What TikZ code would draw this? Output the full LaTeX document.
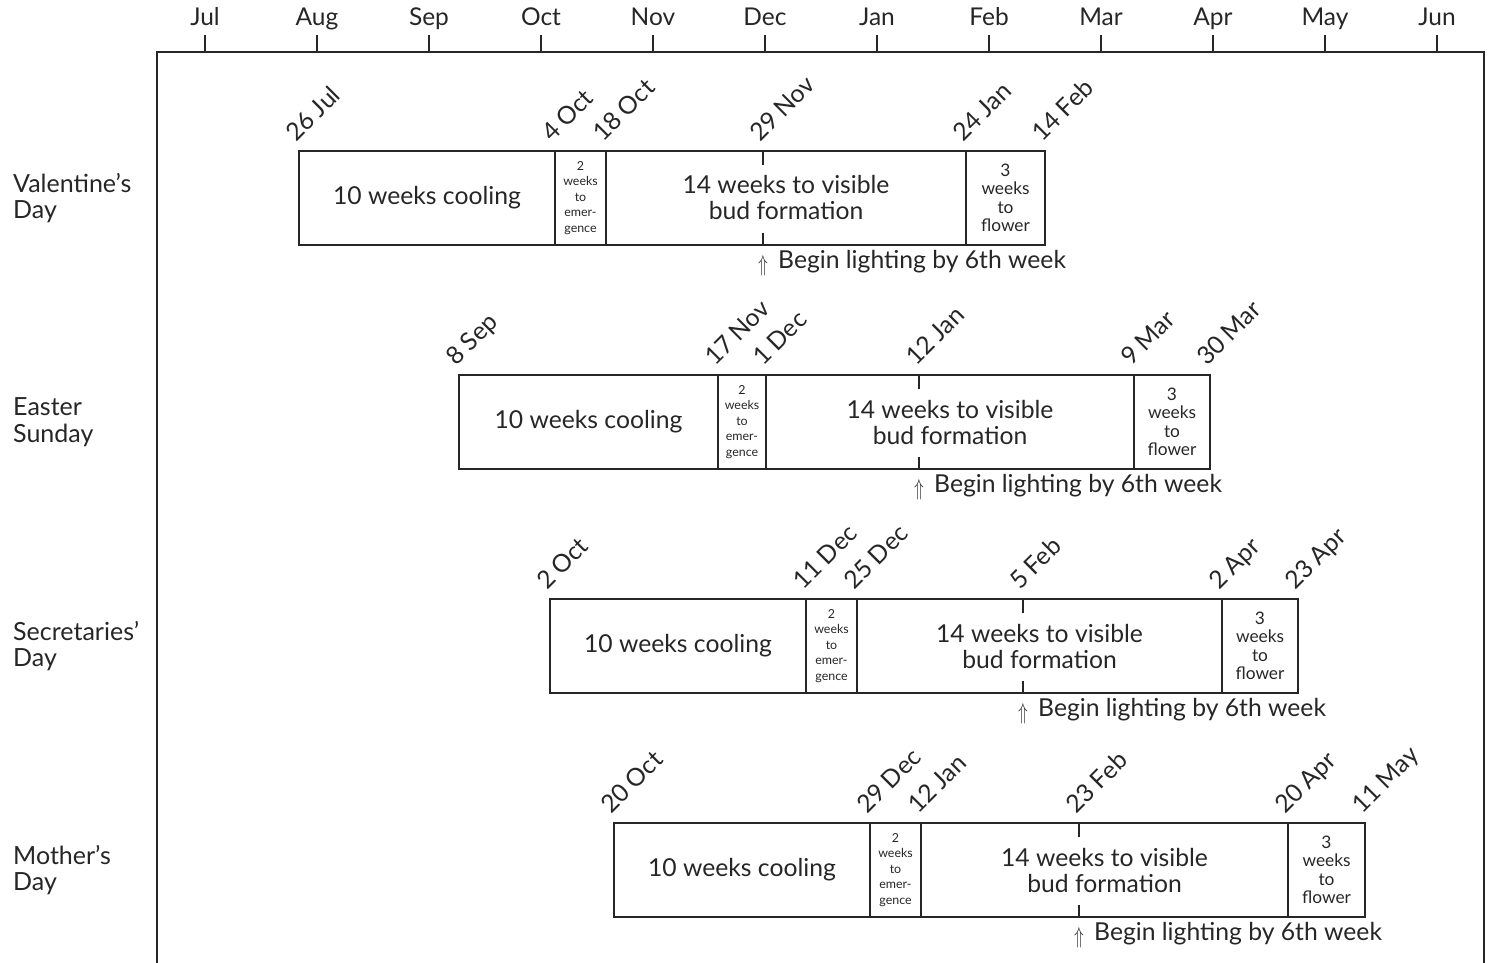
\documentclass[tikz,border=0pt]{standalone}
\usepackage{fontspec}
\usepackage{graphicx}
\setmainfont{Lato}
\begin{document}
\begin{tikzpicture}[x=1pt,y=-1pt,
  line/.style={draw=black!85, line width=1.3pt},
  seg/.style={draw=black!85, line width=1.3pt, minimum height=94pt, inner sep=0pt, outer sep=0pt, anchor=north west, align=center, text=black!85},
  bigtxt/.style={font=\fontsize{24.7}{26}\selectfont},
  midtxt/.style={font=\fontsize{17.3}{18.5}\selectfont},
  smalltxt/.style={font=\fontsize{12.4}{15.6}\selectfont},
  datelbl/.style={rotate=45, anchor=base west, inner sep=0pt, font=\fontsize{24.7}{26}\selectfont, text=black!85},
  rowlbl/.style={anchor=west, align=left, inner sep=0pt, font=\fontsize{25}{26.5}\selectfont, text=black!85},
  monthlbl/.style={anchor=base, inner sep=0pt, font=\fontsize{24.5}{26}\selectfont, text=black!85},
  lighttxt/.style={anchor=base west, inner sep=0pt, font=\fontsize{24.7}{26}\selectfont, text=black!85}
]
\useasboundingbox (0,0) rectangle (1488,963);
% frame
\coordinate (fbl) at (157,963);
\coordinate (ftl) at (157,52);
\coordinate (ftr) at (1484,52);
\coordinate (fbr) at (1484,963);
\draw[line] (fbl) -- (ftl) -- (ftr) -- (fbr);
% months
\foreach \m [count=\k from 0] in {Jul,Aug,Sep,Oct,Nov,Dec,Jan,Feb,Mar,Apr,May,Jun}{
  \coordinate (tk\k) at (205+112*\k,52);
  \draw[line] (tk\k) -- ++(0,-17);
  \node[monthlbl] (m\k) at (205+112*\k,26) {\m};
}
% rows
\foreach \t/\a/\b/\c/\d/\e/\f/\la/\lb/\lc/\ld/\le/\lf/\nm [count=\i] in {
  151/299/555/606/763/966/1045/26 Jul/4 Oct/18 Oct/29 Nov/24 Jan/14 Feb/{Valentine’s\\Day},
  375/459/718/766/919/1134/1210/8 Sep/17 Nov/1 Dec/12 Jan/9 Mar/30 Mar/{Easter\\Sunday},
  599/550/806/857/1023/1222/1298/2 Oct/11 Dec/25 Dec/5 Feb/2 Apr/23 Apr/{Secretaries’\\Day},
  823/614/870/921/1079/1288/1365/20 Oct/29 Dec/12 Jan/23 Feb/20 Apr/11 May/{Mother’s\\Day}}{
  \node[rowlbl] (lbl\i) at (13,\t+47) {\nm};
  \node[seg, bigtxt, minimum width=\b-\a] (cool\i) at (\a,\t) {10 weeks cooling};
  \node[seg, smalltxt, minimum width=\c-\b] (emer\i) at (\b,\t) {2\\weeks\\to\\emer-\\gence};
  \node[seg, bigtxt, minimum width=\e-\c] (bud\i) at (\c,\t) {14 weeks to visible\\bud formation};
  \node[seg, midtxt, minimum width=\f-\e] (flow\i) at (\e,\t) {3\\weeks\\to\\flower};
  \coordinate (lt\i) at (\d,\t);
  \coordinate (lb\i) at (\d,\t+94);
  \draw[line] (lt\i) -- ++(0,14);
  \draw[line] (lb\i) -- ++(0,-12);
  \node[datelbl] (da\i) at (\a-3,\t-8) {\la};
  \node[datelbl] (db\i) at (\b-3,\t-8) {\lb};
  \node[datelbl] (dc\i) at (\c-3,\t-8) {\lc};
  \node[datelbl] (dd\i) at (\d-3,\t-8) {\ld};
  \node[datelbl] (de\i) at (\e-3,\t-8) {\le};
  \node[datelbl] (df\i) at (\f-3,\t-8) {\lf};
  \node[anchor=base, inner sep=0pt, text=black!85] (arr\i) at (\d,\t+120) {\scalebox{1.6}[2.3]{$\Uparrow$}};
  \node[lighttxt] (light\i) at (\d+15,\t+117) {Begin lighting by 6th week};
}
\end{tikzpicture}
\end{document}
